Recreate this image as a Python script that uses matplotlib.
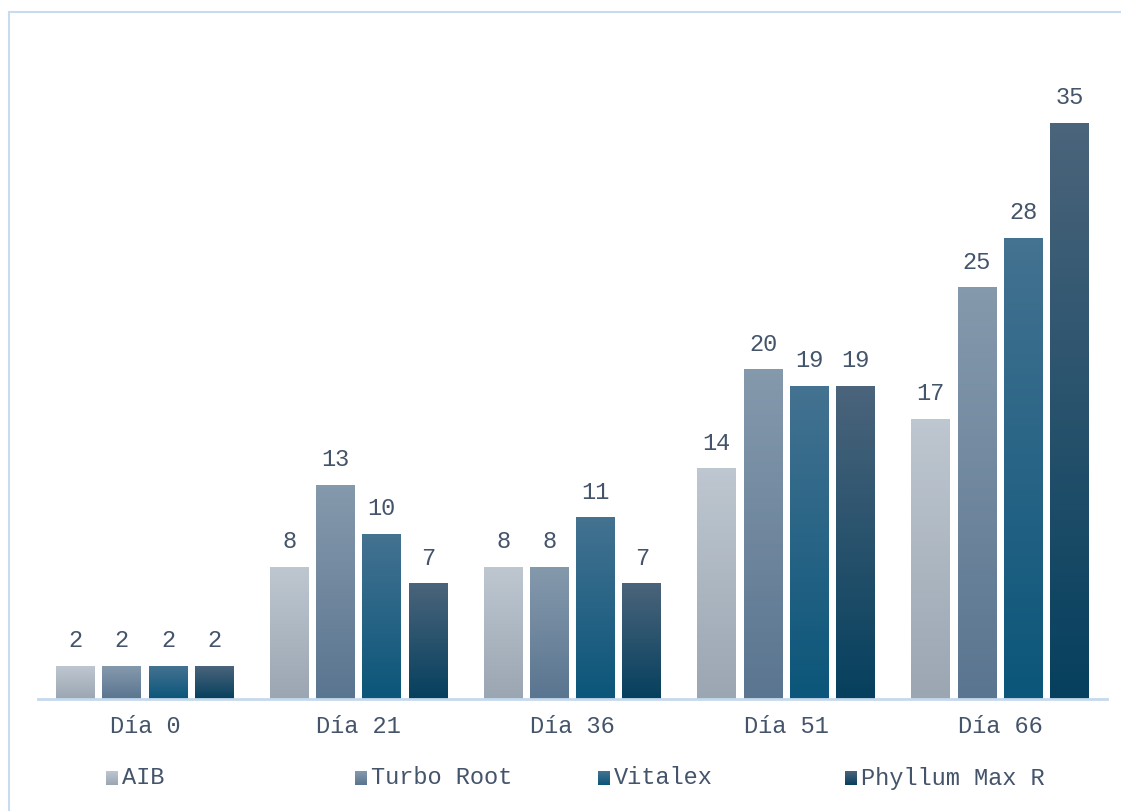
import numpy as np
import matplotlib
matplotlib.use("Agg")
import matplotlib.pyplot as plt
from matplotlib.patches import Rectangle
from matplotlib.lines import Line2D

days = ["Día 0", "Día 21", "Día 36", "Día 51", "Día 66"]
series = ["AIB", "Turbo Root", "Vitalex", "Phyllum Max R"]
aib = [2, 8, 8, 14, 17]
turbo_root = [2, 13, 8, 20, 25]
vitalex = [2, 10, 11, 19, 28]
phyllum = [2, 7, 7, 19, 35]
values = [aib, turbo_root, vitalex, phyllum]

# gradient colours per series: (top, bottom)
grads = [("#bec7d0", "#9ba6b3"),
         ("#8599ac", "#5a7590"),
         ("#447291", "#0b567a"),
         ("#4a647b", "#06405e")]

TEXT = "#44546a"
FRAME = "#c9dcef"
FONT = "Liberation Mono"
FS = 17

W, H = 1121, 811
fig = plt.figure(figsize=(W / 100, H / 100), dpi=100)

# outer frame (left and top edges visible)
fig.add_artist(Rectangle((9 / W, -0.1), 1.2, 1 - 12 / H + 0.1, transform=fig.transFigure,
                         fill=False, edgecolor=FRAME, linewidth=1.5))

ymax = 40
px_per_unit = 576 / 35
ax = fig.add_axes([38 / W, 1 - 699 / H, 1069 / W, ymax * px_per_unit / H])


def grad_img(c_top, c_bot, n=64):
    top = np.array(matplotlib.colors.to_rgb(c_top))
    bot = np.array(matplotlib.colors.to_rgb(c_bot))
    t = np.linspace(0, 1, n)[:, None]
    return (top * (1 - t) + bot * t)[:, None, :]


bar_w = 0.182
pitch = 0.2165
x = np.arange(len(days))
for i, vals in enumerate(values):
    img = grad_img(*grads[i])
    for j, v in enumerate(vals):
        cx = x[j] + (i - 1.5) * pitch
        ax.imshow(img, extent=(cx - bar_w / 2, cx + bar_w / 2, 0, v),
                  aspect="auto", origin="upper", zorder=2)
        ax.text(cx, v + 0.85, str(v), ha="center", va="bottom", fontsize=FS,
                color=TEXT, family=FONT)

ax.set_xlim(-0.5, len(days) - 0.5)
ax.set_ylim(0, ymax)
ax.axis("off")
ax.add_line(Line2D([0, 1], [0, 0], transform=ax.transAxes, color="#c5d9ec",
                   linewidth=2, zorder=3, clip_on=False))
for j, d in enumerate(days):
    ax.text(x[j], -1.7, d, ha="center", va="center", fontsize=FS,
            color=TEXT, family=FONT)

# legend, drawn by hand so the swatches can carry the gradient
leg_x = [106, 355, 598, 845]
leg_y = 778
for i, name in enumerate(series):
    sw = fig.add_axes([leg_x[i] / W, 1 - (leg_y + 7) / H, 12 / W, 14 / H])
    sw.imshow(grad_img(*grads[i]), aspect="auto")
    sw.axis("off")
    fig.text((leg_x[i] + 16) / W, 1 - leg_y / H, name, ha="left", va="center",
             fontsize=FS, color=TEXT, family=FONT)

fig.savefig("out.png", dpi=100, facecolor="white")
